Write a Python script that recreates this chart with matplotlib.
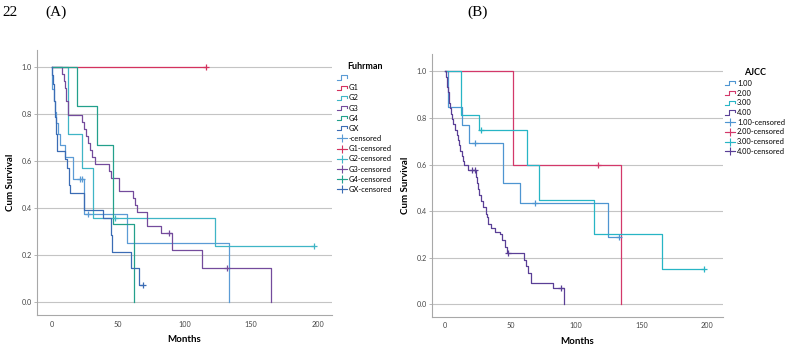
import matplotlib
matplotlib.use("Agg")
import matplotlib.pyplot as plt
from matplotlib.lines import Line2D
from matplotlib.legend_handler import HandlerBase

plt.rcParams['font.family'] = ['Lato', 'DejaVu Sans']

# ---------------- panel A : Fuhrman grade ----------------
fuhrman_labels = ['', 'G1', 'G2', 'G3', 'G4', 'GX']
fuhrman_colors = ['#5b9bd5', '#d4325e', '#3fb5c6', '#744b9c', '#23a08c', '#3b6cb4']

a_blank_t = [0, 0.5, 1.5, 2.5, 3.5, 5, 6, 10, 16, 24.5, 56.5, 133.5]
a_blank_s = [1, 0.905, 0.857, 0.810, 0.762, 0.714, 0.667, 0.619, 0.524, 0.375, 0.25, 0]
a_blank_ct = [21, 23, 27.5]
a_blank_cs = [0.524, 0.524, 0.375]

a_g1_t = [0, 116]
a_g1_s = [1, 1]
a_g1_ct = [116]
a_g1_cs = [1.0]

a_g2_t = [0, 12.5, 22.5, 31, 123, 197]
a_g2_s = [1, 0.714, 0.571, 0.357, 0.238, 0.238]
a_g2_ct = [48, 197]
a_g2_cs = [0.357, 0.238]

a_g3_t = [0, 8, 9, 10, 11, 12.5, 23, 24, 25.5, 27, 29, 30.5, 33, 43, 45, 50.6,
          61, 62.5, 64, 71.4, 82, 90.2, 113, 165.4]
a_g3_s = [1, 0.971, 0.941, 0.912, 0.853, 0.794, 0.765, 0.735, 0.706, 0.676, 0.647,
          0.618, 0.588, 0.559, 0.529, 0.471, 0.441, 0.412, 0.382, 0.324, 0.294,
          0.221, 0.147, 0]
a_g3_ct = [88.2, 132.3]
a_g3_cs = [0.294, 0.147]

a_g4_t = [0, 19.3, 34.5, 46.3, 62]
a_g4_s = [1, 0.833, 0.667, 0.333, 0]
a_g4_ct = []
a_g4_cs = []

a_gx_t = [0, 0.5, 1, 1.5, 2, 2.5, 3, 3.5, 4, 10, 11.5, 13, 14, 24.5, 38.8, 44.6,
          45.5, 60, 65.4, 68.4]
a_gx_s = [1, 0.964, 0.929, 0.893, 0.857, 0.786, 0.75, 0.714, 0.643, 0.607, 0.571,
          0.5, 0.464, 0.393, 0.357, 0.286, 0.214, 0.143, 0.071, 0.071]
a_gx_ct = [68.4]
a_gx_cs = [0.071]

# ---------------- panel B : AJCC stage ----------------
ajcc_labels = ['1.00', '2.00', '3.00', '4.00']
ajcc_colors = ['#4e95d1', '#d3386a', '#27b5c5', '#5a3f96']

b_1_t = [0, 2.3, 13, 18.3, 44.3, 57.1, 123.9, 132.7]
b_1_s = [1, 0.846, 0.769, 0.692, 0.519, 0.433, 0.289, 0.289]
b_1_ct = [22.6, 68.6, 132.7]
b_1_cs = [0.692, 0.433, 0.289]

b_2_t = [0, 51.5, 134]
b_2_s = [1, 0.6, 0]
b_2_ct = [117]
b_2_cs = [0.6]

b_3_t = [0, 11.8, 26, 62.7, 71.6, 113.7, 165.4, 197.7]
b_3_s = [1, 0.8125, 0.75, 0.6, 0.45, 0.3, 0.15, 0.15]
b_3_ct = [27.3, 197.7]
b_3_cs = [0.75, 0.15]

b_4_t = [0, 0.5, 1.0, 1.6, 2.3, 2.8, 3.1, 3.6, 4.2, 4.9, 6.1, 7.4, 8.7, 10.0, 10.7,
         11.2, 12.5, 13.8, 14.5, 17.6, 23.5, 24.5, 25.3, 26.0, 27.3, 29.1, 30.9,
         31.6, 32.9, 34.6, 38, 41.8, 43, 45.6, 46.9, 60.1, 61.7, 63.4, 65.2, 82.5, 90.7]
b_4_s = [1, 0.977, 0.955, 0.932, 0.909, 0.886, 0.864, 0.841, 0.818, 0.795, 0.773,
         0.75, 0.727, 0.705, 0.682, 0.659, 0.636, 0.614, 0.597, 0.576, 0.548, 0.52,
         0.494, 0.468, 0.442, 0.416, 0.39, 0.376, 0.347, 0.326, 0.311, 0.304, 0.276,
         0.247, 0.221, 0.19, 0.164, 0.133, 0.093, 0.071, 0]
b_4_ct = [20.6, 22.7, 48.2, 88.4]
b_4_cs = [0.576, 0.576, 0.221, 0.071]

y_ticks = [0.0, 0.2, 0.4, 0.6, 0.8, 1.0]
x_ticks = [0, 50, 100, 150, 200]


class StepHandler(HandlerBase):
    # little step glyph used by SPSS legends
    def create_artists(self, legend, orig_handle, xdescent, ydescent,
                       width, height, fontsize, trans):
        x0, y0 = -xdescent, -ydescent
        xs = [x0, x0 + 0.4 * width, x0 + 0.4 * width, x0 + width, x0 + width]
        ys = [y0 + 0.1 * height, y0 + 0.1 * height, y0 + 0.9 * height,
              y0 + 0.9 * height, y0 + 0.5 * height]
        ln = Line2D(xs, ys, color=orig_handle.get_color(), lw=0.8)
        ln.set_transform(trans)
        return [ln]


class CensorHandler(HandlerBase):
    def create_artists(self, legend, orig_handle, xdescent, ydescent,
                       width, height, fontsize, trans):
        x0, y0 = -xdescent, -ydescent
        ym = y0 + 0.5 * height
        ln = Line2D([x0, x0 + width], [ym, ym], color=orig_handle.get_color(), lw=0.8)
        mk = Line2D([x0 + 0.5 * width], [ym], marker='+', ms=5.5, mew=0.8,
                    color=orig_handle.get_color(), ls='none')
        ln.set_transform(trans)
        mk.set_transform(trans)
        return [ln, mk]


def km_panel(ax, curves, labels, colors, title, legend_anchor, xlim, ylim, spacing):
    for t, s, ct, cs, c in zip(*curves, colors):
        ax.step(t, s, where='post', color=c, lw=0.9)
    for t, s, ct, cs, c in zip(*curves, colors):
        if ct:
            ax.plot(ct, cs, ls='none', marker='+', ms=4.5, mew=0.9, color=c)

    ax.set_xlim(*xlim)
    ax.set_ylim(*ylim)
    ax.set_yticks(y_ticks)
    ax.set_yticklabels(['%.1f' % v for v in y_ticks])
    ax.set_xticks(x_ticks)
    ax.grid(axis='y', color='#c4c4c4', lw=0.8)
    ax.set_axisbelow(True)
    for side in ['top', 'right']:
        ax.spines[side].set_visible(False)
    for side in ['left', 'bottom']:
        ax.spines[side].set_color('#a8a8a8')
        ax.spines[side].set_linewidth(0.8)
    ax.tick_params(axis='y', length=2, width=0.6, color='#a8a8a8', pad=1.5,
                   labelsize=5.2, labelcolor='#444444')
    ax.tick_params(axis='x', length=0, pad=4, labelsize=5.2, labelcolor='#444444')
    ax.set_xlabel('Months', fontsize=7, fontweight='bold', labelpad=5.5)
    ax.set_ylabel('Cum Survival', fontsize=7, fontweight='bold', labelpad=5)

    handles, hmap, names = [], {}, []
    for lab, c in zip(labels, colors):
        h = Line2D([], [], color=c)
        handles.append(h)
        hmap[h] = StepHandler()
        names.append(lab)
    for lab, c in zip(labels, colors):
        h = Line2D([], [], color=c)
        handles.append(h)
        hmap[h] = CensorHandler()
        names.append(lab + '-censored')
    leg = ax.figure.legend(handles, names, handler_map=hmap, loc='upper left',
                           bbox_to_anchor=legend_anchor, frameon=False,
                           fontsize=5.4, title=title, borderpad=0,
                           labelspacing=spacing, handlelength=1.4, handletextpad=0.25)
    leg.get_title().set_fontweight('bold')
    leg.get_title().set_fontsize(6.5)


fig = plt.figure(figsize=(7.87, 3.47), dpi=100)

ax_a = fig.add_axes([0.047, 0.092, 0.375, 0.764])
curves_a = (
    [a_blank_t, a_g1_t, a_g2_t, a_g3_t, a_g4_t, a_gx_t],
    [a_blank_s, a_g1_s, a_g2_s, a_g3_s, a_g4_s, a_gx_s],
    [a_blank_ct, a_g1_ct, a_g2_ct, a_g3_ct, a_g4_ct, a_gx_ct],
    [a_blank_cs, a_g1_cs, a_g2_cs, a_g3_cs, a_g4_cs, a_gx_cs],
)
km_panel(ax_a, curves_a, fuhrman_labels, fuhrman_colors, 'Fuhrman',
         (0.423, 0.832), (-11, 211), (-0.055, 1.072), 0.42)

ax_b = fig.add_axes([0.5485, 0.087, 0.37, 0.756])
curves_b = (
    [b_1_t, b_2_t, b_3_t, b_4_t],
    [b_1_s, b_2_s, b_3_s, b_4_s],
    [b_1_ct, b_2_ct, b_3_ct, b_4_ct],
    [b_1_cs, b_2_cs, b_3_cs, b_4_cs],
)
km_panel(ax_b, curves_b, ajcc_labels, ajcc_colors, 'AJCC',
         (0.916, 0.814), (-10.4, 212), (-0.053, 1.072), 0.36)

serif = ['Liberation Serif', 'DejaVu Serif']
fig.text(0.003, 0.965, '22', fontsize=11, family=serif, va='center')
fig.text(0.058, 0.965, '(A)', fontsize=11, family=serif, va='center')
fig.text(0.594, 0.965, '(B)', fontsize=11, family=serif, va='center')

fig.savefig('out.png', dpi=100)
